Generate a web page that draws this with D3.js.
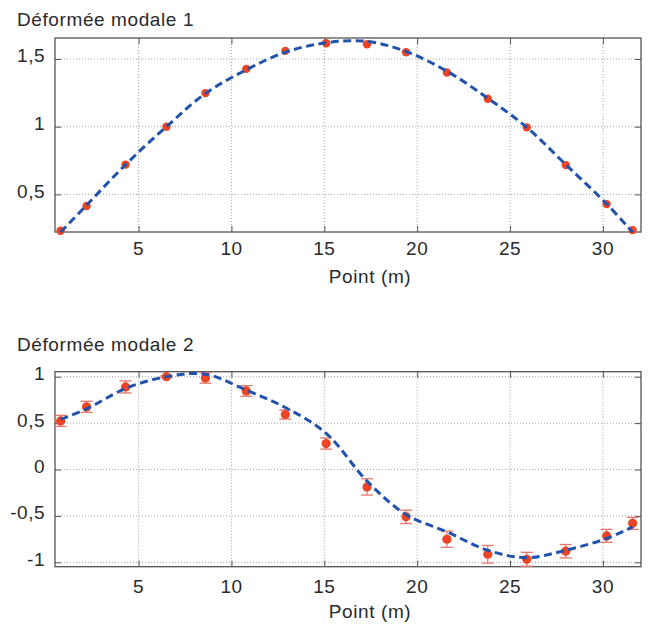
<!DOCTYPE html>
<html>
<head>
<meta charset="utf-8">
<script src="https://cdn.jsdelivr.net/npm/d3@7"></script>
<style>
  body { margin: 0; background: #fff; }
  svg { display: block; font-family: "Liberation Sans", Arial, Helvetica, sans-serif; }
</style>
</head>
<body>
<svg id="chart" width="649" height="625"></svg>
<script>
// ---- Data ----
const positions = [0.8, 2.2, 4.3, 6.5, 8.6, 10.8, 12.9, 15.1, 17.3, 19.4, 21.6, 23.8, 25.9, 28.0, 30.2, 31.6];

const mode1Measured = [0.231, 0.414, 0.72, 1.0, 1.248, 1.427, 1.56, 1.616, 1.609, 1.55, 1.40, 1.206, 0.995, 0.716, 0.428, 0.236];
const mode1Model    = [0.22, 0.42, 0.72, 1.0, 1.245, 1.42, 1.55, 1.62, 1.63, 1.555, 1.41, 1.21, 0.995, 0.72, 0.43, 0.22];

const mode2Measured = [0.524, 0.675, 0.89, 1.0, 0.987, 0.847, 0.593, 0.28, -0.187, -0.51, -0.751, -0.913, -0.967, -0.88, -0.715, -0.58];
const mode2Error    = [0.06, 0.06, 0.065, 0.01, 0.057, 0.057, 0.05, 0.06, 0.088, 0.072, 0.088, 0.095, 0.075, 0.072, 0.07, 0.065];
const mode2Model    = [0.54, 0.653, 0.873, 1.0, 1.027, 0.855, 0.668, 0.39, -0.125, -0.485, -0.672, -0.87, -0.95, -0.87, -0.743, -0.618];

const xTicks = [5, 10, 15, 20, 25, 30];
const xTickLabels = ["5", "10", "15", "20", "25", "30"];
const y1Ticks = [0.5, 1, 1.5];
const y1TickLabels = ["0,5", "1", "1,5"];
const y2Ticks = [-1, -0.5, 0, 0.5, 1];
const y2TickLabels = ["-1", "-0,5", "0", "0,5", "1"];

const titles = ["Déformée modale 1", "Déformée modale 2"];
const xLabel = "Point (m)";

// ---- Drawing ----
const svg = d3.select("#chart");
const left = 55, right = 641;
const x = d3.scaleLinear().domain([0.5, 32.05]).range([left, right]);

const panels = [
  { title: titles[0], top: 38, bottom: 232, yDomain: [0.222, 1.655], ticks: y1Ticks, labels: y1TickLabels,
    measured: mode1Measured, model: mode1Model, err: null, titleY: 25.7, xTickY: 255, xLabelY: 282.5 },
  { title: titles[1], top: 371.7, bottom: 566.7, yDomain: [-1.047, 1.054], ticks: y2Ticks, labels: y2TickLabels,
    measured: mode2Measured, model: mode2Model, err: mode2Error, titleY: 350.7, xTickY: 593, xLabelY: 617.5 }
];

const fontSize = 19;
const textColor = "#2a2a2a";
const frameColor = "#555";

panels.forEach(p => {
  const y = d3.scaleLinear().domain(p.yDomain).range([p.bottom, p.top]);
  const g = svg.append("g");

  // grid
  g.selectAll(".gx").data(xTicks).join("line")
    .attr("x1", d => x(d)).attr("x2", d => x(d))
    .attr("y1", p.top).attr("y2", p.bottom)
    .attr("stroke", "#9a9a9a").attr("stroke-width", 0.9).attr("stroke-dasharray", "1,2");
  g.selectAll(".gy").data(p.ticks).join("line")
    .attr("x1", left).attr("x2", right)
    .attr("y1", d => y(d)).attr("y2", d => y(d))
    .attr("stroke", "#9a9a9a").attr("stroke-width", 0.9).attr("stroke-dasharray", "1,2");

  // axes (ticks inward on all four sides)
  const tl = 6;
  g.append("g").attr("transform", `translate(0,${p.bottom})`)
    .call(d3.axisBottom(x).tickValues(xTicks).tickSize(-tl).tickFormat(""))
    .call(a => a.select(".domain").remove());
  g.append("g").attr("transform", `translate(0,${p.top})`)
    .call(d3.axisTop(x).tickValues(xTicks).tickSize(-tl).tickFormat(""))
    .call(a => a.select(".domain").remove());
  g.append("g").attr("transform", `translate(${left},0)`)
    .call(d3.axisLeft(y).tickValues(p.ticks).tickSize(-tl).tickFormat(""))
    .call(a => a.select(".domain").remove());
  g.append("g").attr("transform", `translate(${right},0)`)
    .call(d3.axisRight(y).tickValues(p.ticks).tickSize(-tl).tickFormat(""))
    .call(a => a.select(".domain").remove());
  g.selectAll(".tick line").attr("stroke", frameColor).attr("stroke-width", 1);

  // frame
  g.append("rect").attr("x", left).attr("y", p.top)
    .attr("width", right - left).attr("height", p.bottom - p.top)
    .attr("fill", "none").attr("stroke", frameColor).attr("stroke-width", 1.3);

  // tick labels
  g.selectAll(".xl").data(xTicks).join("text")
    .attr("x", d => x(d)).attr("y", p.xTickY)
    .attr("text-anchor", "middle").attr("font-size", fontSize).attr("fill", textColor)
    .attr("letter-spacing", "0.5px")
    .text((d, i) => xTickLabels[i]);
  g.selectAll(".yl").data(p.ticks).join("text")
    .attr("x", 45).attr("y", d => y(d) + 3.5)
    .attr("text-anchor", "end").attr("font-size", fontSize).attr("fill", textColor)
    .attr("letter-spacing", "0.5px")
    .text((d, i) => p.labels[i]);

  // axis label
  g.append("text").attr("x", 370).attr("y", p.xLabelY)
    .attr("text-anchor", "middle").attr("font-size", fontSize).attr("fill", textColor)
    .attr("letter-spacing", "0.6px")
    .text(xLabel);

  // title
  g.append("text").attr("x", 17).attr("y", p.titleY)
    .attr("font-size", fontSize).attr("fill", textColor)
    .attr("letter-spacing", "0.6px")
    .text(p.title);

  // error bars
  if (p.err) {
    const eb = g.append("g").attr("stroke", "#e5776c").attr("stroke-width", 1.3);
    p.measured.forEach((v, i) => {
      const e = p.err[i];
      const cx = x(positions[i]);
      eb.append("line").attr("x1", cx).attr("x2", cx).attr("y1", y(v - e)).attr("y2", y(v + e));
      eb.append("line").attr("x1", cx - 6).attr("x2", cx + 6).attr("y1", y(v - e)).attr("y2", y(v - e));
      eb.append("line").attr("x1", cx - 6).attr("x2", cx + 6).attr("y1", y(v + e)).attr("y2", y(v + e));
    });
  }

  // points
  g.selectAll(".pt").data(p.measured).join("circle")
    .attr("cx", (d, i) => x(positions[i])).attr("cy", d => y(d))
    .attr("r", p.err ? 4.6 : 4.2)
    .attr("fill", "#ee4423");

  // model dashed line
  const line = d3.line().x((d, i) => x(positions[i])).y(d => y(d)).curve(d3.curveCatmullRom);
  g.append("path").datum(p.model).attr("d", line)
    .attr("fill", "none").attr("stroke", "#2152ac").attr("stroke-width", 3)
    .attr("stroke-dasharray", "8,4.5");
});
</script>
</body>
</html>
